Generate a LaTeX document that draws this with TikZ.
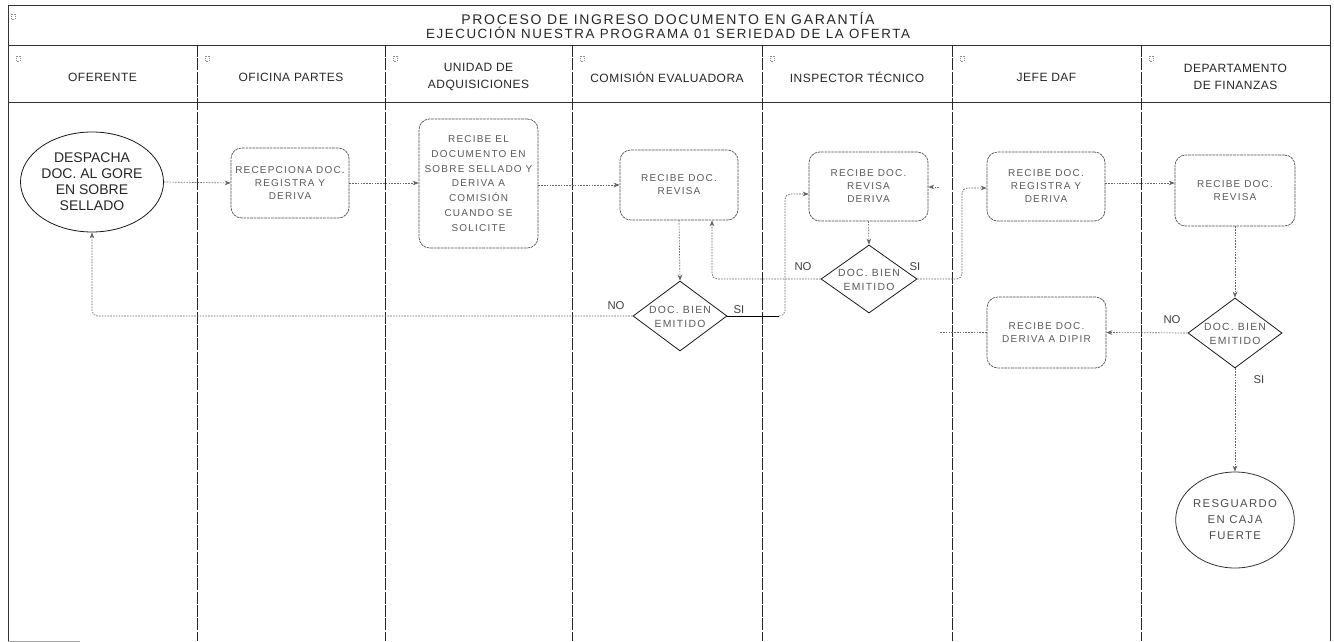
\documentclass[tikz,border=0pt]{standalone}
\usepackage{fontspec}
\setmainfont{Liberation Sans}
\newfontfamily\boxfont{Liberation Sans}[LetterSpace=12]
\newfontfamily\headfont{Liberation Sans}[LetterSpace=4]
\newfontfamily\titlefont{Liberation Sans}[LetterSpace=12]
\usetikzlibrary{shapes.geometric,arrows.meta,calc}

\begin{document}
\begin{tikzpicture}[x=0.75pt,y=-0.75pt,
  laneline/.style={draw=black!85, line width=0.6pt, dash pattern=on 9pt off 1pt},
  frameline/.style={draw=black!80, line width=0.6pt},
  task/.style={draw=black!70, line width=0.5pt, dash pattern=on 2pt off 0.6pt,
    rounded corners=8pt, align=center, inner sep=0pt,
    font=\boxfont\fontsize{7.5}{9.75}\selectfont, text=black!65},
  term/.style={ellipse, draw=black!90, line width=0.6pt, align=center, inner sep=0pt},
  decide/.style={diamond, draw=black!90, line width=0.6pt, inner sep=0pt},
  dtext/.style={align=center, font=\boxfont\fontsize{7.8}{10}\selectfont, text=black!65},
  flow/.style={draw=black!60, line width=0.5pt, dash pattern=on 1.2pt off 0.9pt,
    rounded corners=4pt, -{Stealth[length=4.5pt,width=3.5pt]}},
  plainflow/.style={draw=black!60, line width=0.5pt, dash pattern=on 1.2pt off 0.9pt, rounded corners=4pt},
  solidflow/.style={draw=black, line width=0.6pt},
  lanehead/.style={align=center, font=\headfont\fontsize{9}{12.5}\selectfont, text=black!85},
  tag/.style={font=\fontsize{8.5}{10}\selectfont, text=black!75},
  icon/.style={draw=black!45, line width=0.4pt, densely dotted}
]
\useasboundingbox (0,0) rectangle (1334,642);

% outer frame, title band and header row
\draw[frameline] (8,5) -- (1330,5);
\draw[frameline] (8,45) -- (1330,45);
\draw[frameline] (8,102) -- (1330,102);
\draw[frameline] (8,5) -- (8,641);
\draw[frameline] (1330,5) -- (1330,641);
\draw[draw=black!35, line width=0.5pt] (8,641) -- (80,641);

% lane dividers
\foreach \lx in {197,385,572,762,952,1141}
  \draw[laneline] (\lx,45) -- (\lx,641);

% collapse marks in the header cells
\foreach \lx in {8,197,385,572,762,952,1141}
  \draw[icon] (\lx+8,56) rectangle (\lx+12,61);
\draw[icon] (11,14) rectangle (15,19);

% title
\node[font=\titlefont\fontsize{10.5}{11}\selectfont, text=black!85] (t1) at (668,18) {PROCESO DE INGRESO DOCUMENTO EN GARANTÍA};
\node[font=\titlefont\fontsize{10}{11}\selectfont, text=black!85] (t2) at (668,33) {EJECUCIÓN NUESTRA PROGRAMA 01 SERIEDAD DE LA OFERTA};

% lane names
\node[lanehead] (h1) at (102.5,77) {OFERENTE};
\node[lanehead] (h2) at (291,77) {OFICINA PARTES};
\node[lanehead] (h3) at (478.5,77) {UNIDAD DE\\ADQUISICIONES};
\node[lanehead] (h4) at (667,77) {COMISIÓN EVALUADORA};
\node[lanehead] (h5) at (857,77) {INSPECTOR TÉCNICO};
\node[lanehead] (h6) at (1046.5,77) {JEFE DAF};
\node[lanehead] (h7) at (1235.5,77) {DEPARTAMENTO\\DE FINANZAS};

% process steps
\node[term, minimum width=118*0.75pt, minimum height=100*0.75pt,
      font=\fontsize{10.5}{12}\selectfont, text=black!85] (desp) at (92,182)
      {DESPACHA\\DOC. AL GORE\\EN SOBRE\\SELLADO};
\node[task, minimum width=118*0.75pt, minimum height=70*0.75pt] (op) at (290,183)
      {RECEPCIONA DOC.\\REGISTRA Y\\DERIVA};
\node[task, minimum width=119*0.75pt, minimum height=129*0.75pt,
      font=\boxfont\fontsize{7.5}{11.2}\selectfont] (ua) at (478.5,183.5)
      {RECIBE EL\\DOCUMENTO EN\\SOBRE SELLADO Y\\DERIVA A\\COMISIÓN\\CUANDO SE\\SOLICITE};
\node[task, minimum width=118*0.75pt, minimum height=70*0.75pt] (ce) at (679,185)
      {RECIBE DOC.\\REVISA};
\node[task, minimum width=119*0.75pt, minimum height=69*0.75pt] (it) at (868.5,186.5)
      {RECIBE DOC.\\REVISA\\DERIVA};
\node[task, minimum width=118*0.75pt, minimum height=69*0.75pt] (jd) at (1046,186.5)
      {RECIBE DOC.\\REGISTRA Y\\DERIVA};
\node[task, minimum width=119*0.75pt, minimum height=71*0.75pt] (jd2) at (1046.5,332.5)
      {RECIBE DOC.\\DERIVA A DIPIR};
\node[task, minimum width=120*0.75pt, minimum height=71*0.75pt] (df) at (1235,190.5)
      {RECIBE DOC.\\REVISA};
\node[term, minimum width=116*0.75pt, minimum height=96*0.75pt, draw=black!80,
      font=\boxfont\fontsize{8.5}{12}\selectfont, text=black!70] (res) at (1235,520)
      {RESGUARDO\\EN CAJA\\FUERTE};

% decisions
\node[decide, minimum width=94*0.75pt, minimum height=70*0.75pt] (d1) at (680,316) {};
\node[dtext] (d1t) at (680,317) {DOC. BIEN\\EMITIDO};
\node[decide, minimum width=96*0.75pt, minimum height=68*0.75pt] (d2) at (869,279) {};
\node[dtext] (d2t) at (869,280) {DOC. BIEN\\EMITIDO};
\node[decide, minimum width=94*0.75pt, minimum height=70*0.75pt] (d3) at (1235,333) {};
\node[dtext] (d3t) at (1235,334) {DOC. BIEN\\EMITIDO};

% branch labels
\node[tag] (no1) at (616,306) {NO};
\node[tag] (si1) at (739,310) {SI};
\node[tag] (no2) at (803,267) {NO};
\node[tag] (si2) at (915,267) {SI};
\node[tag] (no3) at (1172,320) {NO};
\node[tag] (si3) at (1259,380) {SI};

% free ends
\coordinate (c1) at (779,316);
\coordinate (stub) at (939,187);
\coordinate (jdend) at (940,332.5);

% connectors
\draw[flow] (desp.east) -- (op.west);
\draw[flow] (op.east) -- (ua.west |- op.east);
\draw[flow] (ua.east |- ce.west) -- (ce.west);
\draw[flow] (ce.south) -- (d1.north);
\draw[flow] (d1.west) -| (desp.south);
\draw[solidflow] (d1.east) -- (c1);
\draw[flow] (c1) -- (785,316) |- ($(it.west)+(0,7.5)$);
\draw[flow] (it.south) -- (d2.north);
\draw[flow] (d2.west) -| ($(ce.south)+(33,0)$);
\draw[flow] (d2.east) -- (962,279) |- ($(jd.west)+(0,1.5)$);
\draw[flow] ($(jd.east)+(0,-3.5)$) -- ($(df.west)+(0,-7.5)$);
\draw[flow] (stub) -- (it.east |- stub);
\draw[flow] (df.south) -- (d3.north);
\draw[flow] (d3.west) -- (jd2.east);
\draw[plainflow] (jd2.west) -- (jdend);
\draw[flow] (d3.south) -- (res.north);
\end{tikzpicture}
\end{document}
